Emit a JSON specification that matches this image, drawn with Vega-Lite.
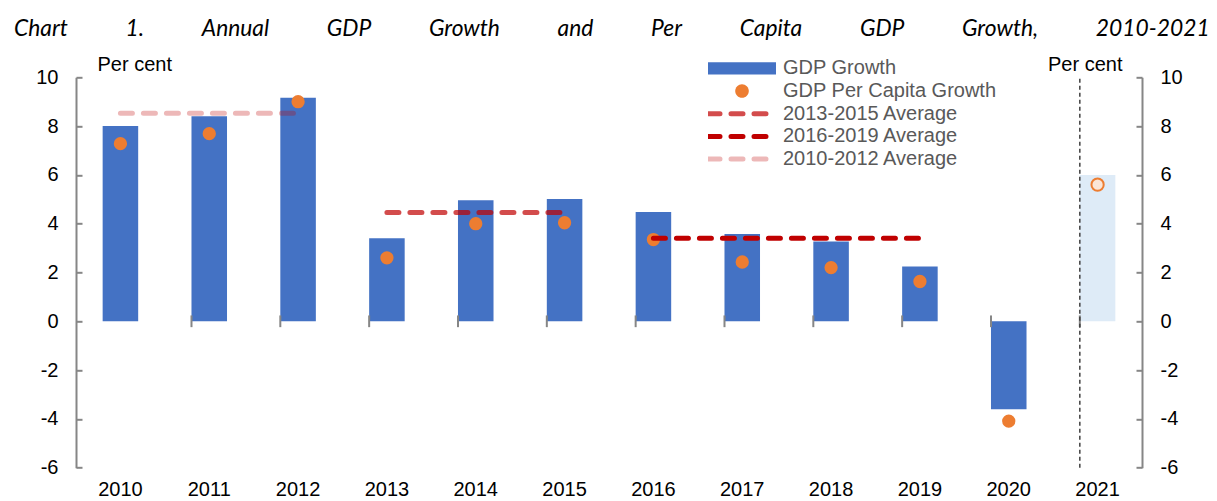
{
  "$schema": "https://vega.github.io/schema/vega-lite/v6.json",
  "width": 1066,
  "height": 390.4,
  "autosize": {"type": "none"},
  "padding": {"left": 76, "top": 77.3, "right": 75, "bottom": 33.3},
  "background": "white",
  "config": {
    "view": {"stroke": null},
    "font": "Liberation Sans",
    "legend": {
      "title": null, "orient": "none", "legendX": 632, "legendY": -19,
      "padding": 0, "clipHeight": 20, "rowPadding": 2.7, "symbolSize": 4624, "symbolStrokeWidth": 0, "symbolOffset": 24, "labelOffset": 31,
      "labelFont": "Liberation Sans", "labelFontSize": 20, "labelColor": "#595959", "labelLimit": 400
    }
  },
  "title": {
    "text": "Chart\u2003\u2003\u2003\u20021.\u2003\u2003\u2003\u2002Annual\u2003\u2003\u2003\u2002GDP\u2003\u2003\u2003\u2002Growth\u2003\u2003\u2003\u2002and\u2003\u2003\u2003\u2002Per\u2003\u2003\u2003\u2002Capita\u2003\u2003\u2003\u2002GDP\u2003\u2003\u2003\u2002Growth,\u2003\u2003\u2003\u20022010-2021",
    "anchor": "start",
    "frame": "group",
    "font": "Lato",
    "fontStyle": "italic",
    "fontWeight": "normal",
    "fontSize": 22.8,
    "color": "#000000",
    "dx": -62,
    "dy": 26,
    "baseline": "alphabetic",
    "offset": 22
  },
  "datasets": {
    "rows": [
      {"year": "2010", "gdp": 8.0, "percapita": 7.28},
      {"year": "2011", "gdp": 8.4, "percapita": 7.69},
      {"year": "2012", "gdp": 9.16, "percapita": 9.0},
      {"year": "2013", "gdp": 3.4, "percapita": 2.6},
      {"year": "2014", "gdp": 4.96, "percapita": 4.0},
      {"year": "2015", "gdp": 5.01, "percapita": 4.04},
      {"year": "2016", "gdp": 4.48, "percapita": 3.35},
      {"year": "2017", "gdp": 3.58, "percapita": 2.43},
      {"year": "2018", "gdp": 3.27, "percapita": 2.2},
      {"year": "2019", "gdp": 2.25, "percapita": 1.63},
      {"year": "2020", "gdp": -3.6, "percapita": -4.09},
      {"year": "2021", "gdp": 6.0, "percapita": 5.6}
    ],
    "averages": [
      {"series": "2010-2012 Average", "year": "2010", "value": 8.53},
      {"series": "2010-2012 Average", "year": "2012", "value": 8.53},
      {"series": "2013-2015 Average", "year": "2013", "value": 4.46},
      {"series": "2013-2015 Average", "year": "2015", "value": 4.46},
      {"series": "2016-2019 Average", "year": "2016", "value": 3.4},
      {"series": "2016-2019 Average", "year": "2019", "value": 3.4}
    ]
  },
  "resolve": {"axis": {"y": "independent"}},
  "layer": [
    {
      "data": {"name": "rows"},
      "transform": [{"filter": "datum.year != '2021'"}],
      "mark": {"type": "bar", "color": "#4472C4"},
      "encoding": {
        "x": {
          "field": "year", "type": "ordinal",
          "scale": {"domain": ["2010","2011","2012","2013","2014","2015","2016","2017","2018","2019","2020","2021"], "paddingInner": 0.6, "paddingOuter": 0.3},
          "axis": {"orient": "bottom", "title": null, "domain": false, "ticks": false, "labelAngle": 0, "labelPadding": 12, "labelFont": "Liberation Sans", "labelFontSize": 20, "labelColor": "#000000"}
        },
        "y": {
          "field": "gdp", "type": "quantitative",
          "scale": {"domain": [-6, 10], "nice": false, "zero": false},
          "axis": {"orient": "left", "values": [-6,-4,-2,0,2,4,6,8,10], "labelExpr": "replace(datum.label, '\u2212', '-')", "grid": false, "domainColor": "#868686", "domainWidth": 2, "tickColor": "#868686", "tickWidth": 2, "tickSize": -6, "labelPadding": 24, "labelFont": "Liberation Sans", "labelFontSize": 20, "labelColor": "#000000", "labelOverlap": false, "title": "Per cent", "titleAngle": 0, "titleX": 21, "titleY": -7, "titleAlign": "left", "titleBaseline": "alphabetic", "titleFont": "Liberation Sans", "titleFontSize": 20, "titleFontWeight": "normal", "titleColor": "#000000"}
        },
        "color": {
          "datum": "GDP Growth", "type": "nominal",
          "scale": {"domain": ["GDP Growth", "GDP Per Capita Growth", "2013-2015 Average", "2016-2019 Average", "2010-2012 Average"], "range": ["#4472C4", "#ED7D31", "rgba(192,0,0,0.7)", "#C00000", "rgba(192,0,0,0.28)"]},
          "legend": {
            "title": null,
            "encoding": {
              "symbols": {
                "size": {"value": 4624},
                "shape": {"value": {"expr": "datum.value === 'GDP Growth' ? 'M-1,-0.18H1V0.18H-1Z' : datum.value === 'GDP Per Capita Growth' ? 'M0.2,0A0.2,0.2,0,1,1,-0.2,0A0.2,0.2,0,1,1,0.2,0Z' : 'stroke'"}},
                "fill": {"value": {"expr": "datum.value === 'GDP Growth' ? '#4472C4' : datum.value === 'GDP Per Capita Growth' ? '#ED7D31' : 'transparent'"}},
                "stroke": {"value": {"expr": "datum.value === '2013-2015 Average' ? 'rgba(192,0,0,0.7)' : datum.value === '2016-2019 Average' ? '#C00000' : datum.value === '2010-2012 Average' ? 'rgba(192,0,0,0.28)' : 'transparent'"}},
                "strokeWidth": {"value": {"expr": "datum.value === 'GDP Growth' || datum.value === 'GDP Per Capita Growth' ? 0 : 5"}},
                "strokeDash": {"value": [12, 11]},
                "strokeCap": {"value": "round"},
                "opacity": {"value": 1}
              }
            }
          }
        }
      }
    },
    {
      "data": {"name": "rows"},
      "transform": [{"filter": "datum.year == '2021'"}],
      "mark": {"type": "bar", "color": "#DEEBF7"},
      "encoding": {
        "x": {"field": "year", "type": "ordinal"},
        "y": {"field": "gdp", "type": "quantitative", "axis": null}
      }
    },
    {
      "mark": {"type": "rule", "color": "#868686", "strokeWidth": 2},
      "encoding": {"y": {"datum": 0, "type": "quantitative", "axis": null}}
    },
    {
      "data": {"name": "rows"},
      "transform": [{"filter": "datum.year != '2010'"}],
      "mark": {"type": "rule", "color": "#868686", "strokeWidth": 2},
      "encoding": {
        "x": {"field": "year", "type": "ordinal", "bandPosition": 0},
        "y": {"datum": -0.24, "type": "quantitative", "axis": null},
        "y2": {"datum": 0.24}
      }
    },
    {
      "data": {"name": "rows"},
      "transform": [{"filter": "datum.year == '2021'"}],
      "mark": {"type": "rule", "color": "#404040", "strokeWidth": 1.5, "strokeDash": [4, 3]},
      "encoding": {
        "x": {"field": "year", "type": "ordinal", "bandPosition": 0},
        "y": {"datum": -6, "type": "quantitative", "axis": null},
        "y2": {"datum": 10}
      }
    },
    {
      "data": {"name": "rows"},
      "transform": [{"filter": "datum.year != '2021'"}],
      "mark": {"type": "circle", "size": 177, "opacity": 1},
      "encoding": {
        "x": {"field": "year", "type": "ordinal"},
        "y": {
          "field": "percapita", "type": "quantitative",
          "axis": {"orient": "right", "values": [-6,-4,-2,0,2,4,6,8,10], "labelExpr": "replace(datum.label, '\u2212', '-')", "grid": false, "domainColor": "#868686", "domainWidth": 2, "tickColor": "#868686", "tickWidth": 2, "tickSize": -6, "labelPadding": 24, "labelFont": "Liberation Sans", "labelFontSize": 20, "labelColor": "#000000", "labelOverlap": false, "title": "Per cent", "titleAngle": 0, "titleX": -20, "titleY": -7, "titleAlign": "right", "titleBaseline": "alphabetic", "titleFont": "Liberation Sans", "titleFontSize": 20, "titleFontWeight": "normal", "titleColor": "#000000"}
        },
        "color": {
          "datum": "GDP Per Capita Growth", "type": "nominal",
          "legend": {
            "title": null,
            "encoding": {
              "symbols": {
                "size": {"value": 4624},
                "shape": {"value": {"expr": "datum.value === 'GDP Growth' ? 'M-1,-0.18H1V0.18H-1Z' : datum.value === 'GDP Per Capita Growth' ? 'M0.2,0A0.2,0.2,0,1,1,-0.2,0A0.2,0.2,0,1,1,0.2,0Z' : 'stroke'"}},
                "fill": {"value": {"expr": "datum.value === 'GDP Growth' ? '#4472C4' : datum.value === 'GDP Per Capita Growth' ? '#ED7D31' : 'transparent'"}},
                "stroke": {"value": {"expr": "datum.value === '2013-2015 Average' ? 'rgba(192,0,0,0.7)' : datum.value === '2016-2019 Average' ? '#C00000' : datum.value === '2010-2012 Average' ? 'rgba(192,0,0,0.28)' : 'transparent'"}},
                "strokeWidth": {"value": {"expr": "datum.value === 'GDP Growth' || datum.value === 'GDP Per Capita Growth' ? 0 : 5"}},
                "strokeDash": {"value": [12, 11]},
                "strokeCap": {"value": "round"},
                "opacity": {"value": 1}
              }
            }
          }
        }
      }
    },
    {
      "data": {"name": "rows"},
      "transform": [{"filter": "datum.year == '2021'"}],
      "mark": {"type": "circle", "size": 150, "opacity": 1, "fill": "#FBE5D6", "stroke": "#ED7D31", "strokeWidth": 2},
      "encoding": {
        "x": {"field": "year", "type": "ordinal"},
        "y": {"field": "percapita", "type": "quantitative", "axis": null}
      }
    },
    {
      "data": {"name": "averages"},
      "mark": {"type": "line", "strokeWidth": 5, "strokeCap": "round", "strokeDash": [12, 11]},
      "encoding": {
        "x": {"field": "year", "type": "ordinal"},
        "y": {"field": "value", "type": "quantitative", "axis": null},
        "color": {
          "field": "series", "type": "nominal",
          "legend": {
            "title": null,
            "encoding": {
              "symbols": {
                "size": {"value": 4624},
                "shape": {"value": {"expr": "datum.value === 'GDP Growth' ? 'M-1,-0.18H1V0.18H-1Z' : datum.value === 'GDP Per Capita Growth' ? 'M0.2,0A0.2,0.2,0,1,1,-0.2,0A0.2,0.2,0,1,1,0.2,0Z' : 'stroke'"}},
                "fill": {"value": {"expr": "datum.value === 'GDP Growth' ? '#4472C4' : datum.value === 'GDP Per Capita Growth' ? '#ED7D31' : 'transparent'"}},
                "stroke": {"value": {"expr": "datum.value === '2013-2015 Average' ? 'rgba(192,0,0,0.7)' : datum.value === '2016-2019 Average' ? '#C00000' : datum.value === '2010-2012 Average' ? 'rgba(192,0,0,0.28)' : 'transparent'"}},
                "strokeWidth": {"value": {"expr": "datum.value === 'GDP Growth' || datum.value === 'GDP Per Capita Growth' ? 0 : 5"}},
                "strokeDash": {"value": [12, 11]},
                "strokeCap": {"value": "round"},
                "opacity": {"value": 1}
              }
            }
          }
        }
      }
    }
  ]
}
